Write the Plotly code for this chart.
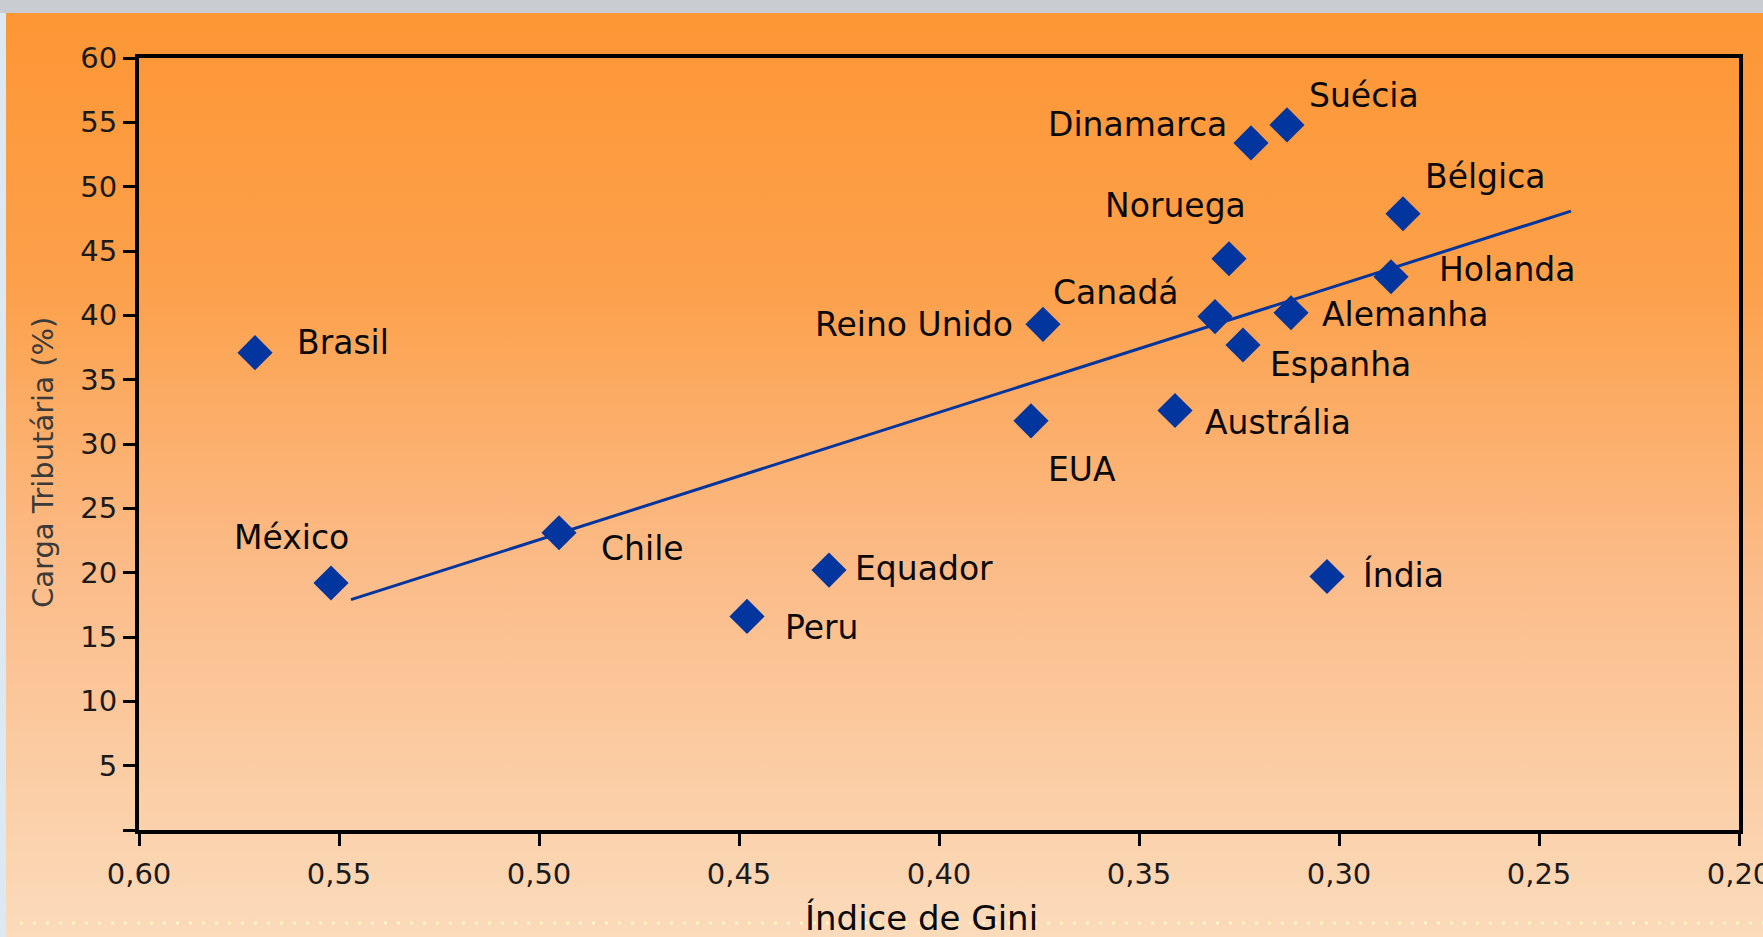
import base64
import plotly.graph_objects as go

# ---------------- data ----------------
countries = ["Brasil", "México", "Chile", "Peru", "Equador", "EUA", "Reino Unido",
             "Austrália", "Canadá", "Noruega", "Espanha", "Dinamarca", "Suécia",
             "Alemanha", "Índia", "Holanda", "Bélgica"]
gini = [0.571, 0.552, 0.495, 0.448, 0.4275, 0.377, 0.374,
        0.341, 0.331, 0.3275, 0.324, 0.322, 0.313,
        0.312, 0.303, 0.287, 0.284]
carga = [37.1, 19.2, 23.1, 16.6, 20.2, 31.8, 39.3,
         32.6, 39.9, 44.4, 37.7, 53.4, 54.8,
         40.2, 19.7, 43.0, 47.9]

trend_x = [0.547, 0.242]
trend_y = [17.9, 48.1]

x_tickvals = [0.60, 0.55, 0.50, 0.45, 0.40, 0.35, 0.30, 0.25, 0.20]
x_ticktext = ["0,60", "0,55", "0,50", "0,45", "0,40", "0,35", "0,30", "0,25", "0,20"]
y_tickvals = [0, 5, 10, 15, 20, 25, 30, 35, 40, 45, 50, 55, 60]
y_ticktext = ["", "5", "10", "15", "20", "25", "30", "35", "40", "45", "50", "55", "60"]

# ---------------- layout / style ----------------
W, H = 1763, 937
ML, MR, MT, MB = 139, 24, 58, 107
PW, PH = W - ML - MR, H - MT - MB

# label placement (anchor, xshift px, yshift px)
label_pos = {
    "Brasil": ("left", 40, 10),
    "México": ("center", -40, 45),
    "Chile": ("left", 40, -16),
    "Peru": ("left", 36, -11),
    "Equador": ("left", 24, 2),
    "EUA": ("center", 51, -49),
    "Reino Unido": ("right", -28, 0),
    "Canadá": ("right", -34, 24),
    "Noruega": ("center", -54, 53),
    "Dinamarca": ("right", -22, 18),
    "Suécia": ("left", 20, 29),
    "Bélgica": ("left", 20, 37),
    "Holanda": ("left", 46, 7),
    "Alemanha": ("left", 29, -2),
    "Espanha": ("left", 25, -20),
    "Austrália": ("left", 28, -12),
    "Índia": ("left", 34, 2),
}

FONT = "DejaVu Sans, Verdana, sans-serif"
BLUE = "#03359e"

svg = f'''<svg xmlns="http://www.w3.org/2000/svg" width="{W}" height="{H}" viewBox="0 0 {W} {H}" preserveAspectRatio="none">
<defs><linearGradient id="g" x1="0" y1="0" x2="0" y2="1">
<stop offset="0" stop-color="#fd9634"/>
<stop offset="0.3" stop-color="#fca04a"/>
<stop offset="0.6" stop-color="#fbbb87"/>
<stop offset="1" stop-color="#fbdbbb"/>
</linearGradient></defs>
<rect x="0" y="0" width="{W}" height="{H}" fill="url(#g)"/>
<rect x="0" y="0" width="{W}" height="13" fill="#c9ccd0"/>
<rect x="0" y="13" width="6" height="{H}" fill="#dce8f2"/>
<line x1="20" y1="923" x2="{W}" y2="923" stroke="#fff6c0" stroke-width="3" stroke-dasharray="3 10"/>
</svg>'''
svg_uri = "data:image/svg+xml;base64," + base64.b64encode(svg.encode()).decode()

fig = go.Figure()

fig.add_trace(go.Scatter(
    x=trend_x, y=trend_y, mode="lines",
    line=dict(color=BLUE, width=3), hoverinfo="skip", showlegend=False))

fig.add_trace(go.Scatter(
    x=gini, y=carga, mode="markers", text=countries,
    marker=dict(symbol="diamond", size=27, color=BLUE, line=dict(width=0)),
    showlegend=False))

for name, gx, cy in zip(countries, gini, carga):
    anchor, xs, ys = label_pos[name]
    fig.add_annotation(x=gx, y=cy, text=name, showarrow=False,
                       xanchor=anchor, yanchor="middle", xshift=xs, yshift=ys,
                       font=dict(family=FONT, size=33, color="#0a0a0a"))

# axis titles
fig.add_annotation(x=(43 - ML) / PW, y=(H - MB - 463) / PH, xref="paper", yref="paper",
                   text="Carga Tributária (%)", textangle=-90, showarrow=False,
                   xanchor="center", yanchor="middle",
                   font=dict(family=FONT, size=29, color="#3a3a3a"))
fig.add_annotation(x=(921 - ML) / PW, y=(H - MB - 918) / PH, xref="paper", yref="paper",
                   text="Índice de Gini", showarrow=False,
                   xanchor="center", yanchor="middle",
                   font=dict(family=FONT, size=34, color="#0a0a0a"))

fig.add_layout_image(dict(
    source=svg_uri, xref="paper", yref="paper",
    x=-ML / PW, y=1 + MT / PH, sizex=W / PW, sizey=H / PH,
    xanchor="left", yanchor="top", sizing="stretch", layer="below"))

axis_common = dict(showgrid=False, zeroline=False, showline=True, linecolor="black",
                   linewidth=4, mirror=True, ticks="outside", ticklen=12, tickwidth=3,
                   tickcolor="black", automargin=False,
                   tickfont=dict(family=FONT, size=29, color="#1a1a1a"))

fig.update_xaxes(range=[0.6000001, 0.1999999], tickmode="array", tickvals=x_tickvals,
                 ticktext=x_ticktext, ticklabelstandoff=3, ticklabeloverflow="allow",
                 **axis_common)
fig.update_yaxes(range=[0, 60], tickmode="array", tickvals=y_tickvals,
                 ticktext=y_ticktext, **axis_common)

fig.update_layout(
    width=W, height=H, autosize=False,
    margin=dict(l=ML, r=MR, t=MT, b=MB, pad=0, autoexpand=False),
    paper_bgcolor="rgba(0,0,0,0)", plot_bgcolor="rgba(0,0,0,0)",
    font=dict(family=FONT),
    hovermode="closest",
)

fig.write_html("out.html", include_plotlyjs=True,
               config={"displayModeBar": False},
               post_script="document.body.style.margin='0';document.body.style.overflow='hidden';")
